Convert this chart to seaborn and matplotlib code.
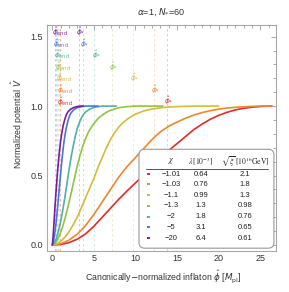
import numpy as np
import pandas as pd
import seaborn as sns
import matplotlib.pyplot as plt
from matplotlib.patches import FancyBboxPatch
from matplotlib.ticker import MultipleLocator, FormatStrFormatter

# ------------------------ DATA ------------------------

chi_labels = ["−1.01", "−1.03", "−1.1", "−1.3", "−2", "−5", "−20"]
lambda_vals = ["0.64", "0.76", "0.99", "1.3", "1.8", "3.1", "6.4"]
xi_vals = ["2.1", "1.8", "1.3", "0.98", "0.76", "0.65", "0.61"]

colors = ["#e52a2a", "#f0852f", "#d6ba3c", "#93c344", "#4fb2a3", "#4a74e0", "#7a1c9c"]

phi_red = [0, 1, 2, 3, 4, 5, 6, 7, 8, 9, 10, 11, 12, 13, 14, 15, 16, 17, 18, 19,
           20, 21, 22, 23, 24, 25, 26, 26.4]
v_red = [0, 0.004, 0.017, 0.042, 0.08, 0.135, 0.20, 0.265, 0.33, 0.39, 0.447, 0.505,
         0.56, 0.615, 0.68, 0.73, 0.78, 0.83, 0.87, 0.905, 0.933, 0.955, 0.972, 0.984,
         0.992, 0.997, 1.0, 1.0]

phi_orange = [0, 1, 2, 3, 4, 5, 6, 7, 8, 9, 10, 11, 12, 13, 14, 15, 16, 17, 18, 19,
              20, 21, 22, 23, 24, 25, 26.4]
v_orange = [0, 0.009, 0.035, 0.078, 0.14, 0.22, 0.31, 0.40, 0.49, 0.565, 0.63, 0.695,
            0.76, 0.815, 0.855, 0.885, 0.912, 0.935, 0.953, 0.967, 0.978, 0.986, 0.991,
            0.995, 0.998, 1.0, 1.0]

phi_yellow = [0, 0.5, 1, 1.5, 2, 2.5, 3, 3.5, 4, 4.5, 5, 5.5, 6, 6.5, 7, 7.5, 8, 8.5,
              9, 9.5, 10, 11, 12, 13, 14, 15, 16, 18, 20]
v_yellow = [0, 0.007, 0.025, 0.055, 0.095, 0.145, 0.20, 0.27, 0.34, 0.41, 0.48, 0.56,
            0.63, 0.70, 0.76, 0.81, 0.85, 0.88, 0.905, 0.925, 0.942, 0.965, 0.979,
            0.988, 0.993, 0.996, 0.998, 1.0, 1.0]

phi_green = [0, 0.3, 0.6, 0.9, 1.2, 1.5, 1.8, 2.1, 2.4, 2.7, 3.0, 3.3, 3.6, 3.9, 4.2,
             4.5, 5.0, 5.5, 6.0, 6.5, 7.0, 8.0, 9.0, 10.0, 13.3]
v_green = [0, 0.01, 0.035, 0.075, 0.125, 0.185, 0.255, 0.33, 0.41, 0.49, 0.57, 0.64,
           0.70, 0.75, 0.795, 0.83, 0.875, 0.91, 0.935, 0.955, 0.97, 0.988, 0.996, 1.0, 1.0]

phi_teal = [0, 0.25, 0.5, 0.75, 1.0, 1.25, 1.5, 1.75, 2.0, 2.25, 2.5, 2.75, 3.0, 3.25,
            3.5, 3.75, 4.0, 4.5, 5.0, 5.5, 6.0, 7.7]
v_teal = [0, 0.015, 0.05, 0.105, 0.17, 0.25, 0.34, 0.44, 0.54, 0.63, 0.71, 0.78, 0.84,
          0.88, 0.915, 0.94, 0.958, 0.978, 0.99, 0.996, 1.0, 1.0]

phi_blue = [0, 0.15, 0.3, 0.45, 0.6, 0.75, 0.9, 1.05, 1.2, 1.35, 1.5, 1.7, 1.9, 2.1,
            2.3, 2.6, 3.0, 3.5, 4.0, 5.5]
v_blue = [0, 0.03, 0.09, 0.16, 0.25, 0.35, 0.45, 0.55, 0.64, 0.72, 0.785, 0.85, 0.90,
          0.935, 0.955, 0.975, 0.988, 0.996, 1.0, 1.0]

phi_purple = [0, 0.1, 0.2, 0.3, 0.4, 0.5, 0.6, 0.7, 0.8, 0.9, 1.0, 1.15, 1.3, 1.5, 1.7,
              1.9, 2.2, 2.6, 3.0, 3.4, 3.7]
v_purple = [0, 0.07, 0.16, 0.26, 0.35, 0.43, 0.51, 0.58, 0.645, 0.70, 0.75, 0.81, 0.86,
            0.905, 0.94, 0.96, 0.978, 0.99, 0.997, 1.0, 1.0]

phi_end = [0.95, 0.9, 0.8, 0.7, 0.5, 0.4, 0.3]
phi_star = [13.77, 12.2, 9.67, 7.15, 5.05, 3.66, 3.2]

curves = [(phi_red, v_red), (phi_orange, v_orange), (phi_yellow, v_yellow),
          (phi_green, v_green), (phi_teal, v_teal), (phi_blue, v_blue),
          (phi_purple, v_purple)]

# ------------------------ FIGURE ------------------------

sns.set_theme(style="white")
plt.rcParams["font.family"] = ["Liberation Sans", "DejaVu Sans"]

fig = plt.figure(figsize=(2.89, 2.92), dpi=100)
ax = fig.add_axes([0.161, 0.1415, 0.794, 0.7735])

rows = []
for chi, (xs, ys) in zip(chi_labels, curves):
    for x, y in zip(xs, ys):
        rows.append({"chi": chi, "phi": x, "V": y})
df = pd.DataFrame(rows)

sns.lineplot(data=df, x="phi", y="V", hue="chi", hue_order=chi_labels,
             palette=colors, sort=False, estimator=None, legend=False,
             linewidth=1.2, ax=ax, zorder=3)

# dashed marker lines and labels
for i, c in enumerate(colors):
    ax.axvline(phi_end[i], color=c, lw=0.6, ls=(0, (3, 3)), alpha=0.3, zorder=1)
    ax.axvline(phi_star[i], color=c, lw=0.6, ls=(0, (3, 3)), alpha=0.3, zorder=1)
    yl = 1.035 + 0.083 * i
    ax.text(phi_end[i] - 0.35, yl, r"$\hat{\phi}_{\rm end}$", color=c,
            fontsize=5.2, ha="left", va="center", zorder=4)
    ax.text(phi_star[i] - 0.3, yl, r"$\hat{\phi}_{*}$", color=c,
            fontsize=5.2, ha="left", va="center", zorder=4)

ax.set_xlim(-0.7, 26.9)
ax.set_ylim(-0.041, 1.585)
ax.xaxis.set_major_locator(MultipleLocator(5))
ax.xaxis.set_minor_locator(MultipleLocator(1))
ax.yaxis.set_major_locator(MultipleLocator(0.5))
ax.yaxis.set_minor_locator(MultipleLocator(0.1))
ax.yaxis.set_major_formatter(FormatStrFormatter("%.1f"))
ax.tick_params(which="both", direction="in", top=True, right=True,
               color="#9a9a9a", width=0.6, labelsize=6.5, labelcolor="#333333", pad=2.5)
ax.tick_params(which="major", length=3.5)
ax.tick_params(which="minor", length=2)
for s in ax.spines.values():
    s.set_color("#a8a8a8")
    s.set_linewidth(0.8)

ax.set_xlabel("")
ax.set_ylabel("")
fig.text(0.565, 0.052, r"Canonically$-$normalized inflaton $\hat{\phi}$ [$M_{\rm pl}$]",
         fontsize=6.3, ha="center", va="center", color="#333333")
fig.text(0.06, 0.575, r"Normalized potential $\hat{V}$", fontsize=6.3,
         rotation=90, ha="center", va="center", color="#333333")
fig.text(0.557, 0.957, r"$\alpha$=1, $N_{*}$=60", fontsize=6.5,
         ha="center", va="center", color="#333333")

# table-like legend
box = FancyBboxPatch((0.403, 0.011), 0.588, 0.438, transform=ax.transAxes,
                     boxstyle="round,pad=0,rounding_size=0.025",
                     fc="white", ec="#9a9a9a", lw=0.8, zorder=5)
ax.add_patch(box)
hy = 0.398
ax.text(0.543, hy, r"$\chi$", transform=ax.transAxes, fontsize=6, ha="center",
        va="center", zorder=6, math_fontfamily="stix")
ax.text(0.672, hy, r"$\lambda\,[10^{-3}]$", transform=ax.transAxes, fontsize=5.5,
        ha="center", va="center", zorder=6, math_fontfamily="stix")
ax.text(0.865, hy, r"$\sqrt{\xi}\ [10^{16}\mathrm{GeV}]$", transform=ax.transAxes,
        fontsize=5.5, ha="center", va="center", zorder=6, math_fontfamily="stix")
ax.plot([0.434, 0.965], [0.3615, 0.3615], transform=ax.transAxes, color="#555555",
        lw=0.7, zorder=6)
row_y = [0.339, 0.294, 0.246, 0.198, 0.150, 0.1035, 0.055]
for i in range(len(chi_labels)):
    ax.plot([0.436, 0.452], [row_y[i], row_y[i]], transform=ax.transAxes,
            color=colors[i], lw=1.4, zorder=6, solid_capstyle="butt")
    for xc, txt in [(0.543, chi_labels[i]), (0.672, lambda_vals[i]), (0.865, xi_vals[i])]:
        ax.text(xc, row_y[i], txt, transform=ax.transAxes, fontsize=5.5,
                ha="center", va="center", zorder=6, color="#222222")

fig.savefig("out.png", dpi=100)
